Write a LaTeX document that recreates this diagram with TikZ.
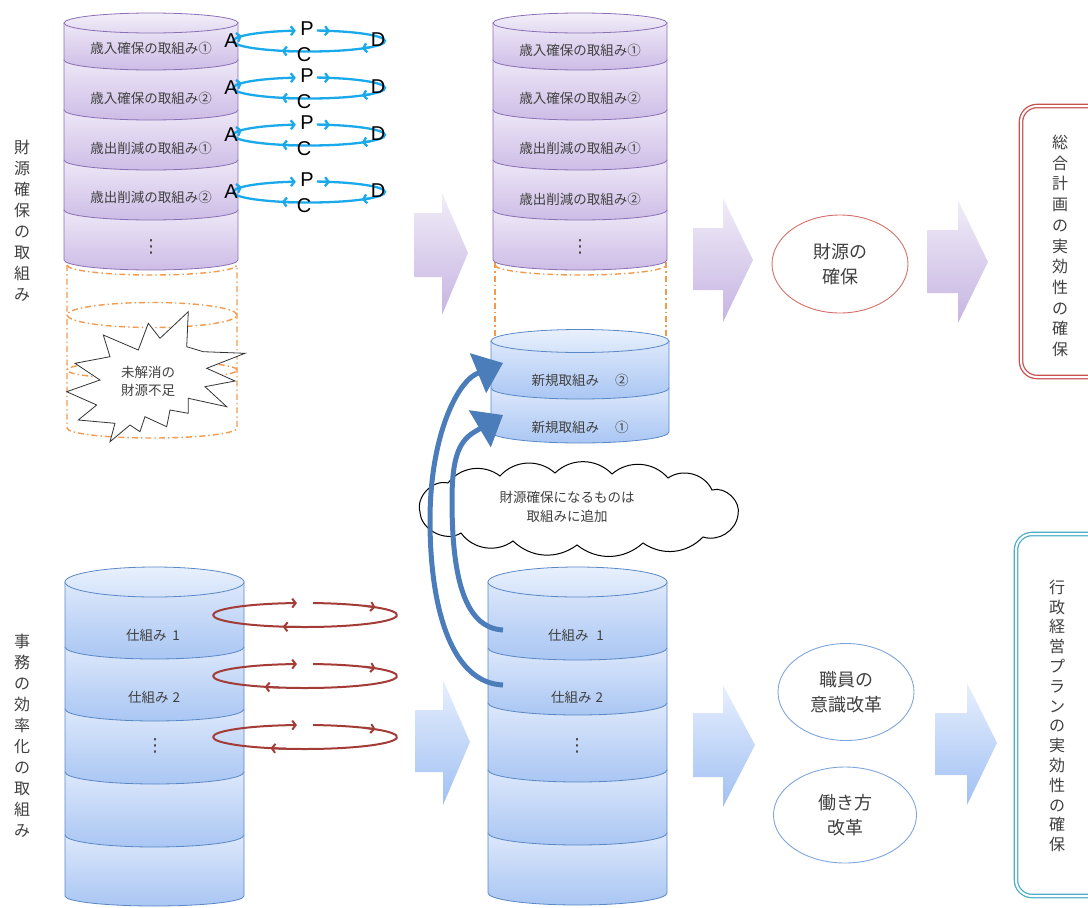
\documentclass[tikz,border=0pt]{standalone}
\usepackage{fontspec}
\setmainfont{Noto Sans CJK JP}
\newfontfamily\latinf{Liberation Sans}
\newfontfamily\dejavu{DejaVu Sans}
\usetikzlibrary{arrows.meta,shapes.geometric,calc}
\definecolor{txt}{HTML}{404040}
\definecolor{purTop}{HTML}{EEE8F7}
\definecolor{purBot}{HTML}{CDBCE6}
\definecolor{purCapT}{HTML}{F3EFF9}
\definecolor{purCapB}{HTML}{E2D9F1}
\definecolor{purLine}{HTML}{8A6FB5}
\definecolor{bluTop}{HTML}{DDE8FB}
\definecolor{bluBot}{HTML}{A9C6F3}
\definecolor{bluCapT}{HTML}{E8F0FD}
\definecolor{bluCapB}{HTML}{D3E2FA}
\definecolor{bluLine}{HTML}{5A88C6}
\definecolor{cyanA}{HTML}{1AA9EA}
\definecolor{redA}{HTML}{A33C36}
\definecolor{orangeD}{HTML}{F29A4E}
\definecolor{redE}{HTML}{D46E6A}
\definecolor{bluE}{HTML}{7EA6DA}
\definecolor{redR}{HTML}{C9514D}
\definecolor{tealR}{HTML}{4CAEC5}
\definecolor{arrowB}{HTML}{4A7DBA}
\definecolor{parTop}{HTML}{F1EDF8}
\definecolor{parBot}{HTML}{C6B4E2}
\definecolor{barTop}{HTML}{E7EFFD}
\definecolor{barBot}{HTML}{A0C0F3}

% segment of a stacked cylinder: L, R, ytop, ybot, ry, style
\newcommand{\cylseg}[6]{%
  \path[#6] (#1,-#3) -- (#1,-#4) arc[start angle=180,end angle=360,x radius={(#2-#1)/2},y radius=#5] -- (#2,-#3) -- cycle;}
% top cap: L, R, y, ry, style
\newcommand{\cyltop}[5]{%
  \path[#5] ({(#1+#2)/2},-#3) ellipse[x radius={(#2-#1)/2}, y radius=#4];}
% block arrow: x1, x2, xt, by1, by2, hy1, hy2, ty, style
\newcommand{\blockarrow}[9]{%
  \path[#9] (#1,-#4) -- (#2,-#4) -- (#2,-#6) -- (#3,-#8) -- (#2,-#7) -- (#2,-#5) -- (#1,-#5) -- cycle;}
% small arrow tip on an ellipse: cx, cy, rx, ry, angle, style
\newcommand{\tipat}[6]{%
  \draw[#6] ($(#1,-#2)+({#5+10}:#3 and #4)$) arc[start angle={#5+10}, end angle=#5, x radius=#3, y radius=#4];}
% PDCA ring: cy, suffix
\newcommand{\pdcaring}[2]{%
  \draw[pdcatip] (233,-#1) arc[start angle=180,end angle=100,x radius=76,y radius=10.5];
  \draw[pdcaline] ($(309,-#1)+(80:76 and 10.5)$) arc[start angle=80,end angle=-180,x radius=76,y radius=10.5];
  \tipat{309}{#1}{76}{10.5}{152}{pdcatip}
  \tipat{309}{#1}{76}{10.5}{74}{pdcatip}
  \tipat{309}{#1}{76}{10.5}{-46}{pdcatip}
  \tipat{309}{#1}{76}{10.5}{-111}{pdcatip}
  \node[pletter] (A#2) at (231,-#1) {A};
  \node[pletter] (P#2) at (307,{-#1+12.5}) {P};
  \node[pletter] (D#2) at (378,{-#1+1}) {D};
  \node[pletter] (C#2) at (304,{-#1-14}) {C};}
% red ring: cy, bottom tip angle
\newcommand{\redring}[2]{%
  \draw[redtip] (213,-#1) arc[start angle=180,end angle=95,x radius=92,y radius=12];
  \draw[redline] ($(305,-#1)+(85:92 and 12)$) arc[start angle=85,end angle=-180,x radius=92,y radius=12];
  \tipat{305}{#1}{92}{12}{40}{redtip}
  \tipat{305}{#1}{92}{12}{#2}{redtip}}

\begin{document}
\begin{tikzpicture}[x=1pt,y=1pt,
  purseg/.style={draw=purLine, line width=0.8pt, top color=purTop, bottom color=purBot},
  purcap/.style={draw=purLine, line width=0.8pt, top color=purCapT, bottom color=purCapB},
  bluseg/.style={draw=bluLine, line width=0.8pt, top color=bluTop, bottom color=bluBot},
  blucap/.style={draw=bluLine, line width=0.8pt, top color=bluCapT, bottom color=bluCapB},
  lbl/.style={text=txt, font=\fontsize{13.5}{16}\selectfont, inner sep=0},
  dots/.style={text=txt, font=\dejavu\fontsize{18}{18}\selectfont, inner sep=0},
  orng/.style={draw=orangeD, line width=1.4pt, dash pattern=on 6pt off 3pt on 1.5pt off 3pt},
  pdcaline/.style={draw=cyanA, line width=2.3pt},
  pdcatip/.style={draw=cyanA, line width=2.3pt, -{Straight Barb[length=3.5pt,width=9pt]}},
  pletter/.style={font=\latinf\fontsize{20}{20}\selectfont, inner sep=0, text=black},
  redline/.style={draw=redA, line width=2pt},
  redtip/.style={draw=redA, line width=2pt, -{Straight Barb[length=3.5pt,width=9pt]}},
  parrow/.style={top color=parTop, bottom color=parBot, draw=none},
  barrow/.style={top color=barTop, bottom color=barBot, draw=none},
  vtext/.style={text=txt, align=center, inner sep=0},
  ell/.style={ellipse, line width=0.9pt, align=center, text=txt, font=\fontsize{18}{25}\selectfont, inner sep=0},
  curvearrow/.style={draw=arrowB, line width=5pt, -{Triangle[length=27pt,width=42pt]}},
  burst/.style={draw=black!80, line width=0.8pt, fill=white},
  cloudline/.style={draw=black, line width=1pt, fill=white},
]
\clip (0,0) rectangle (1088,-908);
\path[use as bounding box] (0,0) rectangle (1088,-908);

% ---------- orange dashed (unresolved shortfall) ----------
\draw[orng] (67,-265) arc[start angle=180,end angle=360,x radius=85,y radius=10];
\draw[orng] (67,-265) -- (67,-428) arc[start angle=180,end angle=360,x radius=85,y radius=10] -- (237,-265);
\draw[orng] (152,-315) ellipse[x radius=85, y radius=12.5];
\draw[orng] (152,-370) ellipse[x radius=85, y radius=9];
\draw[orng] (495,-265) arc[start angle=180,end angle=360,x radius=85.5,y radius=10];
\draw[orng] (495,-262) -- (495,-336);
\draw[orng] (666,-262) -- (666,-336);

% ---------- left purple cylinder ----------
\cylseg{64}{238}{210}{260}{10}{purseg}
\cylseg{64}{238}{160}{210}{10}{purseg}
\cylseg{64}{238}{110}{160}{10}{purseg}
\cylseg{64}{238}{60}{110}{10}{purseg}
\cylseg{64}{238}{23}{60}{10}{purseg}
\cyltop{64}{238}{23}{10}{purcap}
\node[lbl] (l1) at (151,-48) {歳入確保の取組み①};
\node[lbl] (l2) at (151,-98) {歳入確保の取組み②};
\node[lbl] (l3) at (151,-148) {歳出削減の取組み①};
\node[lbl] (l4) at (151,-197) {歳出削減の取組み②};
\node[dots] (l5) at (151,-247) {⋮};

% PDCA rings
\pdcaring{41}{a}
\pdcaring{88}{b}
\pdcaring{135}{c}
\pdcaring{192}{d}

% starburst
\draw[burst] (188.3,-311.7) -- (186.7,-346.7) -- (203.3,-351.7) -- (245,-353.3) -- (206.7,-368.3) -- (235,-381) -- (205,-386.7) -- (226.7,-406.7) -- (188.3,-398.3) -- (188.3,-413.3) -- (170,-410) -- (166.7,-426.7) -- (145,-416.7) -- (140,-431.7) -- (130,-425) -- (110,-441.7) -- (115,-423.3) -- (78.3,-420) -- (96.7,-405) -- (66.7,-391.7) -- (100,-380) -- (75,-363.3) -- (110,-356.7) -- (103.3,-335) -- (138.3,-350) -- (148.3,-323.3) -- (160,-338.3) -- cycle;
\node[lbl, align=center, font=\fontsize{13.5}{18}\selectfont] (burst) at (148,-381) {未解消の\\財源不足};

% ---------- middle purple cylinder ----------
\cylseg{493}{667}{210}{260}{10}{purseg}
\cylseg{493}{667}{160}{210}{10}{purseg}
\cylseg{493}{667}{110}{160}{10}{purseg}
\cylseg{493}{667}{60}{110}{10}{purseg}
\cylseg{493}{667}{23}{60}{10}{purseg}
\cyltop{493}{667}{23}{10}{purcap}
\node[lbl] (m1) at (580,-50) {歳入確保の取組み①};
\node[lbl] (m2) at (580,-98) {歳入確保の取組み②};
\node[lbl] (m3) at (580,-148) {歳出削減の取組み①};
\node[lbl] (m4) at (580,-199) {歳出削減の取組み②};
\node[dots] (m5) at (580,-247) {⋮};

% ---------- new blue cylinder ----------
\cylseg{491}{669}{388}{432}{11}{bluseg}
\cylseg{491}{669}{341}{388}{11}{bluseg}
\cyltop{491}{669}{341}{11.5}{blucap}
\node[lbl] (n2) at (580,-380) {新規取組み\hspace{16pt}②};
\node[lbl] (n1) at (580,-427) {新規取組み\hspace{16pt}①};

% ---------- left blue cylinder ----------
\cylseg{65}{244}{835}{896}{10}{bluseg}
\cylseg{65}{244}{772}{835}{12}{bluseg}
\cylseg{65}{244}{709}{772}{12}{bluseg}
\cylseg{65}{244}{647}{709}{12}{bluseg}
\cylseg{65}{244}{582}{647}{12}{bluseg}
\cyltop{65}{244}{582}{15}{blucap}
\node[lbl] (s1) at (153,-635) {仕組み\hspace{6pt}1};
\node[lbl] (s2) at (154,-697) {仕組み\hspace{4pt}2};
\node[dots] (s3) at (155,-746) {⋮};

% red rings
\redring{615}{-104}
\redring{676}{-116}
\redring{737}{-112}

% ---------- middle blue cylinder ----------
\cylseg{488}{667}{833}{893}{12}{bluseg}
\cylseg{488}{667}{770}{833}{12}{bluseg}
\cylseg{488}{667}{703}{770}{12}{bluseg}
\cylseg{488}{667}{648}{703}{12}{bluseg}
\cylseg{488}{667}{582}{648}{12}{bluseg}
\cyltop{488}{667}{582}{15}{blucap}
\node[lbl] (t1) at (576,-635) {仕組み\hspace{8pt}1};
\node[lbl] (t2) at (577,-697) {仕組み\hspace{4pt}2};
\node[dots] (t3) at (577,-746) {⋮};

% ---------- cloud ----------
\draw[cloudline] (420,-512) to[bend left=60] (448,-483) to[bend left=45] (500,-476) to[bend left=45] (555,-473)
  to[bend left=45] (612,-474) to[bend left=45] (668,-478) to[bend left=50] (712,-490) to[bend left=60] (738,-515)
  to[bend left=50] (703,-537) to[bend left=40] (643,-543) to[bend left=40] (577,-545) to[bend left=40] (513,-541)
  to[bend left=45] (461,-533) to[bend left=60] (420,-512) -- cycle;
\node[lbl, align=center, font=\fontsize{13.5}{19}\selectfont] (cloudtxt) at (567,-507) {財源確保になるものは\\取組みに追加};

% ---------- curved arrows ----------
\coordinate (c1s) at (503,-630);
\coordinate (c1e) at (503,-415);
\coordinate (c2s) at (503,-685);
\coordinate (c2e) at (503,-363);
\draw[curvearrow] (c1s) .. controls (462,-628) and (452,-570) .. (452,-500) .. controls (452,-455) and (460,-440) .. (476,-431) -- (c1e);
\draw[curvearrow] (c2s) .. controls (452,-683) and (430,-610) .. (430,-520) .. controls (430,-440) and (455,-385) .. (476,-374) -- (c2e);

% ---------- block arrows ----------
\blockarrow{414}{442}{468}{213}{277}{193}{315}{253}{parrow}
\blockarrow{693}{723}{753}{228}{290}{198}{322}{260}{parrow}
\blockarrow{927}{958}{988}{230}{293}{200}{323}{262}{parrow}
\blockarrow{415}{443}{470}{710}{772}{680}{805}{742}{barrow}
\blockarrow{693}{723}{755}{713}{777}{685}{807}{745}{barrow}
\blockarrow{935}{967}{997}{713}{775}{683}{805}{743}{barrow}

% ---------- ellipses ----------
\node[ell, draw=redE, minimum width=136pt, minimum height=98pt] (zaigen) at (840,-264) {財源の\\確保};
\node[ell, draw=bluE, minimum width=136pt, minimum height=97pt] (shokuin) at (846,-692) {職員の\\意識改革};
\node[ell, draw=bluE, minimum width=143pt, minimum height=96pt] (hataraki) at (845,-815) {働き方\\改革};

% ---------- right double frames ----------
\draw[draw=redR, line width=1.3pt, double=white, double distance=2pt, rounded corners=16pt] (1021,-106) rectangle (1130,-377);
\draw[draw=tealR, line width=1.3pt, double=white, double distance=2pt, rounded corners=16pt] (1016,-534) rectangle (1130,-896);
\node[vtext, font=\fontsize{16}{20.7}\selectfont] (sogo) at (1060,-246) {総\\合\\計\\画\\の\\実\\効\\性\\の\\確\\保};
\node[vtext, font=\fontsize{16}{19.8}\selectfont] (gyosei) at (1057,-716) {行\\政\\経\\営\\プ\\ラ\\ン\\の\\実\\効\\性\\の\\確\\保};

% ---------- left vertical titles ----------
\node[vtext, font=\fontsize{16}{21}\selectfont] (title1) at (22,-221) {財\\源\\確\\保\\の\\取\\組\\み};
\node[vtext, font=\fontsize{16}{21}\selectfont] (title2) at (22,-736) {事\\務\\の\\効\\率\\化\\の\\取\\組\\み};
\end{tikzpicture}
\end{document}
